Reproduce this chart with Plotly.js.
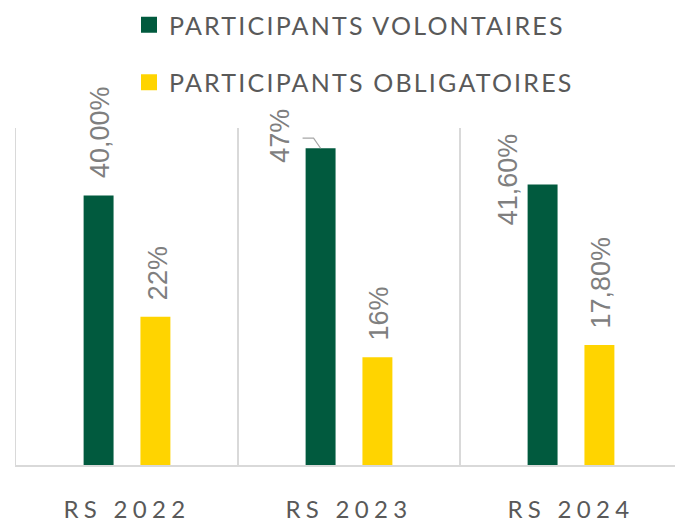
<!DOCTYPE html>
<html>
<head>
<meta charset="utf-8">
<script src="https://cdn.plot.ly/plotly-3.0.1.min.js"></script>
<style>
  html, body { margin: 0; padding: 0; background: #fff; }
  #chart { width: 675px; height: 525px; }
  .xtick text { letter-spacing: 5.3px; }
  .legendtext { letter-spacing: 2.2px; }
</style>
</head>
<body>
<div id="chart"></div>
<script>
// ---- data ----
const categories = ["RS 2022", "RS 2023", "RS 2024"];
const seriesNames = ["PARTICIPANTS VOLONTAIRES", "PARTICIPANTS OBLIGATOIRES"];
const volontaires = [40, 47, 41.6];
const obligatoires = [22, 16, 17.8];
const volontairesLabels = ["40,00%", "47%", "41,60%"];
const obligatoiresLabels = ["22%", "16%", "17,80%"];

// ---- style ----
const colors = ["#015a3e", "#ffd400"];
const bargap = 0.488, bargroupgap = 0.473;
const slot = (1 - bargap) / 2;
const offsets = [-slot / 2, slot / 2];
const labelFont = { family: "Liberation Sans, Arial, sans-serif", size: 27, color: "#7f7f7f" };
// per-label manual placement (pixel shifts), like hand-moved labels
const labelShift = {
  "0-1": { xshift: -40, yshift: -17 },
  "0-2": { xshift: -35, yshift: -43 }
};

const values = [volontaires, obligatoires];
const labels = [volontairesLabels, obligatoiresLabels];

const traces = values.map((v, s) => ({
  type: "bar",
  name: seriesNames[s],
  x: categories,
  y: v,
  marker: { color: colors[s] },
  showlegend: false,
  hoverinfo: "none"
}));
// legend entries (square swatches)
values.forEach((v, s) => {
  traces.push({
    type: "scatter", mode: "markers", name: seriesNames[s],
    x: [null], y: [null], legendgroup: "g" + s, showlegend: true,
    marker: { color: colors[s], symbol: "square", size: 17 },
    hoverinfo: "none"
  });
});

const annotations = [];
values.forEach((v, s) => {
  v.forEach((val, i) => {
    const sh = labelShift[s + "-" + i] || { xshift: 2, yshift: 15 };
    annotations.push({
      x: i + offsets[s], y: val, xref: "x", yref: "y",
      text: labels[s][i], showarrow: false, textangle: -90,
      xanchor: "center", yanchor: "bottom",
      xshift: sh.xshift, yshift: sh.yshift,
      font: labelFont
    });
  });
});

// leader line for the moved 47% label
const shapes = [{
  type: "path", xref: "x", yref: "y",
  xsizemode: "pixel", ysizemode: "pixel",
  xanchor: 1 + offsets[0], yanchor: volontaires[1],
  path: "M-18,10 L-7,10 L0,0",
  line: { color: "#a6a6a6", width: 1.2 }
}];

const mL = 16, mT = 128, mB = 60;
const plotW = 675 - mL, plotH = 525 - mT - mB;
const layout = {
  width: 675, height: 525,
  margin: { l: mL, r: 0, t: mT, b: mB },
  paper_bgcolor: "#ffffff", plot_bgcolor: "#ffffff",
  barmode: "group", bargap: bargap, bargroupgap: bargroupgap,
  showlegend: true,
  legend: {
    orientation: "v", xref: "paper", yref: "paper",
    x: (129 - mL) / plotW, y: 1 + (mT - 2) / plotH, xanchor: "left", yanchor: "top",
    font: { family: "Lato, sans-serif", size: 25, color: "#595959" },
    tracegroupgap: 22, traceorder: "grouped", itemsizing: "trace",
    bgcolor: "rgba(0,0,0,0)"
  },
  xaxis: {
    type: "category", range: [-0.5, -0.5 + plotW / 222],
    tickson: "boundaries", showgrid: true, gridcolor: "#d9d9d9", gridwidth: 1.5,
    showline: true, linecolor: "#d9d9d9", linewidth: 1.5,
    ticks: "", ticklabelstandoff: 23,
    tickfont: { family: "Lato, sans-serif", size: 24, color: "#595959" },
    fixedrange: true, zeroline: false
  },
  yaxis: {
    range: [0, 50], showgrid: false, zeroline: false,
    showticklabels: false, ticks: "",
    showline: true, linecolor: "#d9d9d9", linewidth: 1.5,
    fixedrange: true
  },
  annotations: annotations,
  shapes: shapes
};

Plotly.newPlot("chart", traces, layout, { displayModeBar: false, staticPlot: true });
</script>
</body>
</html>
